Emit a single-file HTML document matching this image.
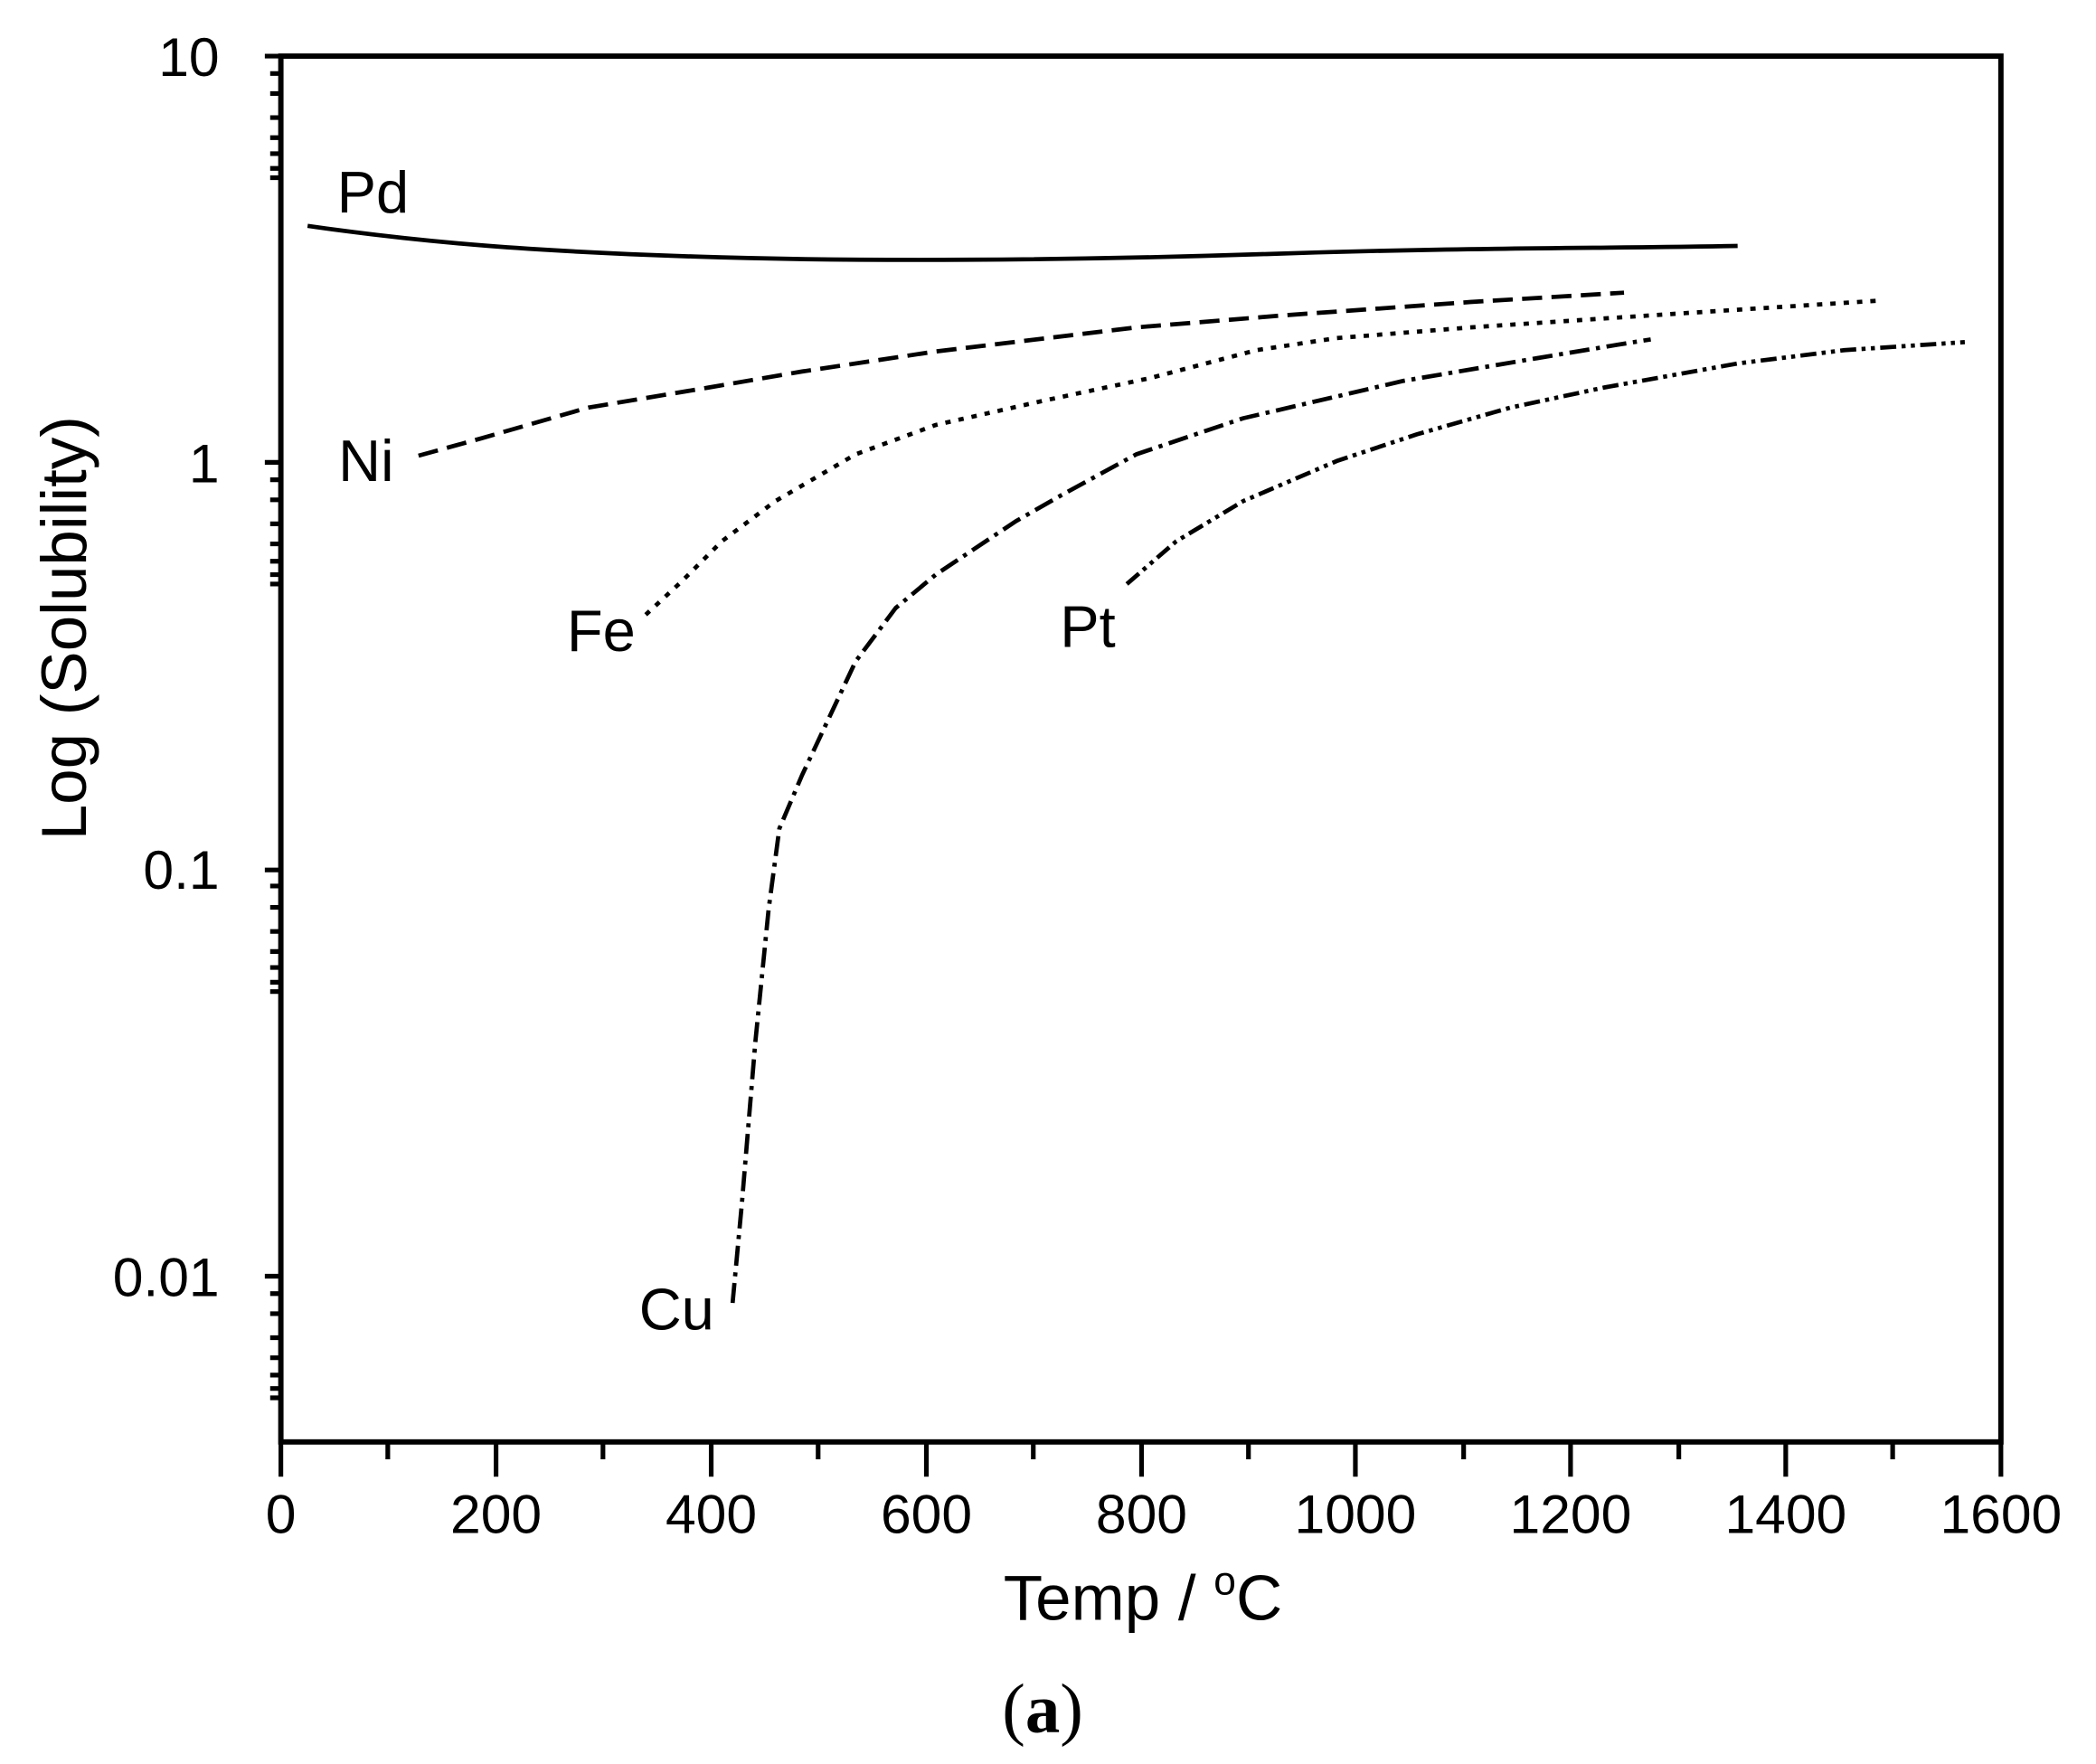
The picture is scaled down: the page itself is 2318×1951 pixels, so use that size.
<!DOCTYPE html>
<html><head><meta charset="utf-8"><style>html,body{margin:0;padding:0;background:#fff}svg{display:block}</style></head>
<body>
<svg width="2318" height="1951" viewBox="0 0 1568 1320" xmlns="http://www.w3.org/2000/svg" font-family="Liberation Sans, Arial, sans-serif">
<rect width="1568" height="1320" fill="#fff"/>
<g stroke="#000" stroke-width="4" fill="none">
<rect x="210" y="42" width="1287" height="1037"/>
</g>
<g stroke="#000" stroke-width="3.5">
<line x1="210" y1="1079" x2="210" y2="1105"/><line x1="371" y1="1079" x2="371" y2="1105"/><line x1="532" y1="1079" x2="532" y2="1105"/><line x1="693" y1="1079" x2="693" y2="1105"/><line x1="854" y1="1079" x2="854" y2="1105"/><line x1="1014" y1="1079" x2="1014" y2="1105"/><line x1="1175" y1="1079" x2="1175" y2="1105"/><line x1="1336" y1="1079" x2="1336" y2="1105"/><line x1="1497" y1="1079" x2="1497" y2="1105"/>
<line x1="290" y1="1079" x2="290" y2="1092"/><line x1="451" y1="1079" x2="451" y2="1092"/><line x1="612" y1="1079" x2="612" y2="1092"/><line x1="773" y1="1079" x2="773" y2="1092"/><line x1="934" y1="1079" x2="934" y2="1092"/><line x1="1095" y1="1079" x2="1095" y2="1092"/><line x1="1256" y1="1079" x2="1256" y2="1092"/><line x1="1416" y1="1079" x2="1416" y2="1092"/>
</g>
<g font-size="41" text-anchor="middle" fill="#000">
<text x="210" y="1147">0</text><text x="371" y="1147">200</text><text x="532" y="1147">400</text><text x="693" y="1147">600</text><text x="854" y="1147">800</text><text x="1014" y="1147">1000</text><text x="1175" y="1147">1200</text><text x="1336" y="1147">1400</text><text x="1497" y="1147">1600</text>
</g>
<g font-size="41" text-anchor="end" fill="#000">
<text x="164" y="57">10</text><text x="164" y="361">1</text><text x="164" y="665">0.1</text><text x="164" y="970">0.01</text>
</g>
<text x="855" y="1212" font-size="48" text-anchor="middle">Temp / <tspan font-size="30" dy="-19">o</tspan><tspan dy="19">C</tspan></text>
<text transform="translate(64,470) rotate(-90)" font-size="48" text-anchor="middle">Log (Solubility)</text>
<text x="780" y="1296" font-size="52" text-anchor="middle" font-family="Liberation Serif, serif">(<tspan font-weight="bold">a</tspan>)</text>
<g font-size="44" fill="#000">
<text x="252" y="159">Pd</text><text x="253" y="360">Ni</text><text x="424" y="487">Fe</text><text x="478" y="995">Cu</text><text x="793" y="484">Pt</text>
</g>
<g fill="none" stroke="#000" stroke-width="3.2" stroke-linejoin="round">
<path d="M230,169 C320,182 400,188 520,192 S800,195 950,190 S1200,186 1300,184"/>
<polyline stroke-dasharray="15,7" points="313,341 360,328 440,305 530,290 600,278 700,263 850,245 960,236 1100,226 1215,219"/>
<polyline stroke-dasharray="4,6" points="483,460 510,435 540,405 580,375 640,340 700,318 780,300 860,283 940,262 1000,253 1100,245 1250,235 1405,225"/>
<polyline stroke-dasharray="15,5,3,5" points="548,975 555,900 565,780 575,680 583,620 600,580 640,495 670,455 700,430 760,390 795,370 850,340 930,313 1050,285 1150,268 1210,258 1235,254"/>
<polyline stroke-dasharray="12,4,3,4,3,4" points="843,437 880,405 930,375 1000,345 1060,325 1130,305 1200,290 1300,272 1380,262 1470,256"/>
</g>
<g stroke="#000" stroke-width="3.5">
<line x1="198" y1="42" x2="210" y2="42"/><line x1="198" y1="346" x2="210" y2="346"/><line x1="198" y1="651" x2="210" y2="651"/><line x1="198" y1="955" x2="210" y2="955"/>
<path d="M202 133H210M202 126H210M202 115H210M202 103H210M202 88H210M202 70H210M202 55H210
M202 437H210M202 430H210M202 420H210M202 407H210M202 392H210M202 374H210M202 359H210
M202 742H210M202 735H210M202 724H210M202 712H210M202 697H210M202 679H210M202 663H210
M202 1046H210M202 1039H210M202 1029H210M202 1016H210M202 1001H210M202 983H210M202 968H210"/>
</g>
</svg>
</body></html>
